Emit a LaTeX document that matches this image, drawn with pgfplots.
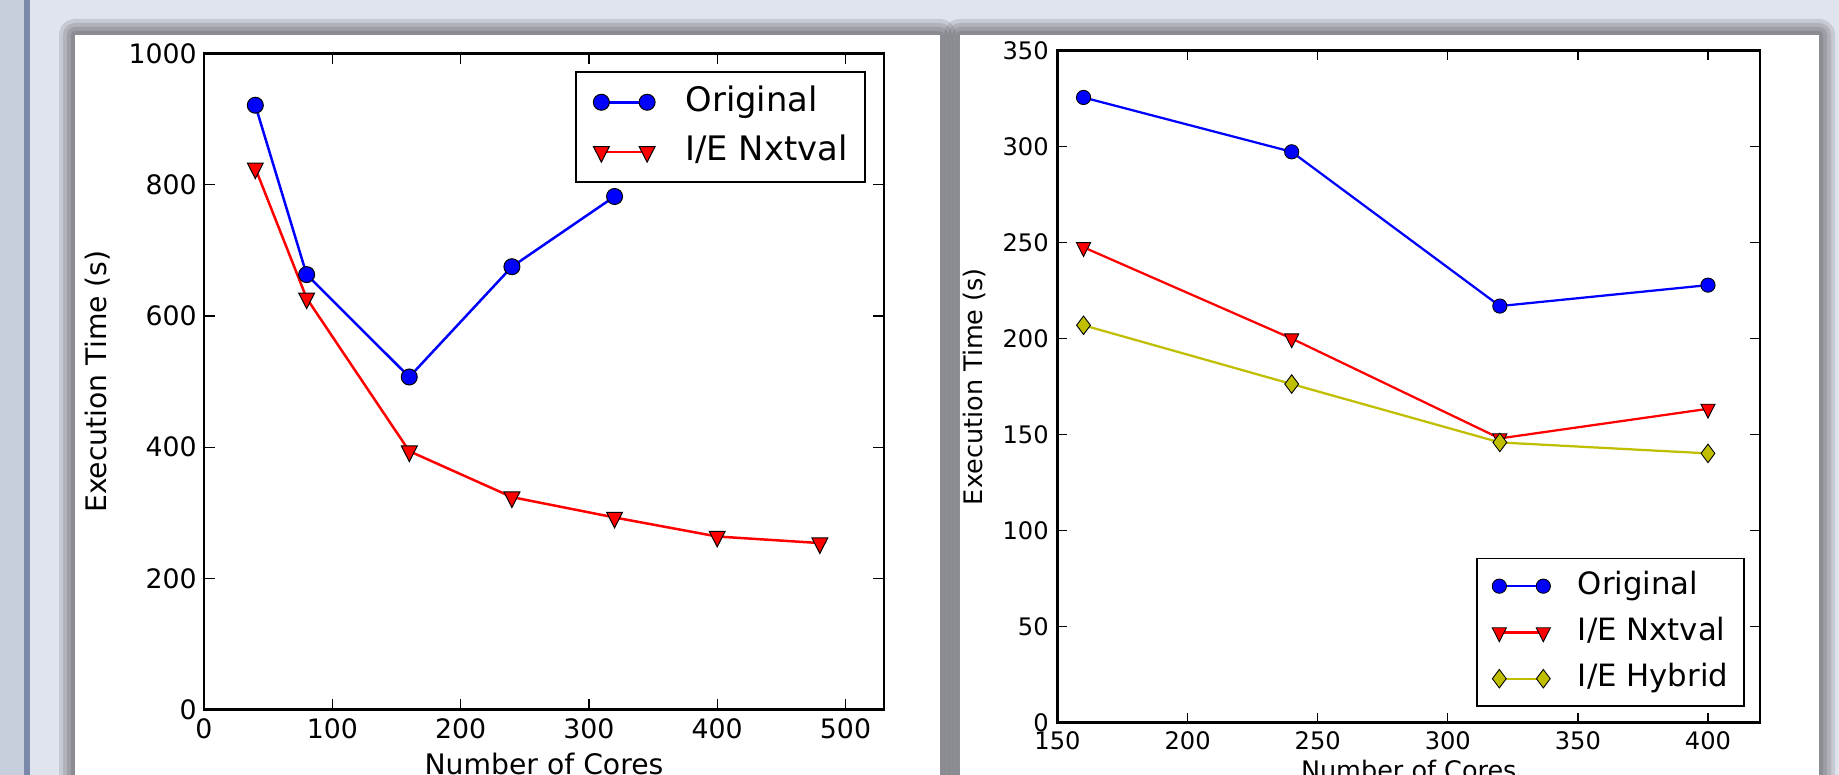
\documentclass[border=0pt]{standalone}
\usepackage{fontspec}
\setmainfont{DejaVu Sans}
\usepackage{pgfplots}
\pgfplotsset{compat=1.18}
\definecolor{slidebg}{HTML}{E0E4EE}
\definecolor{stripc}{HTML}{C8CFDC}
\definecolor{stripl}{HTML}{7A88AA}
\definecolor{mplyellow}{HTML}{BFBF00}
\pgfplotstableread{
x y
40 921
80 663
160 507
240 675
320 782
}\leftorig
\pgfplotstableread{
x y
40 825
80 627
160 394
240 324
320 293
400 264
480 254
}\leftnxt
\pgfplotstableread{
x y
160 325.5
240 297.2
320 216.9
400 227.8
}\rightorig
\pgfplotstableread{
x y
160 247.5
240 200
320 148
400 163.4
}\rightnxt
\pgfplotstableread{
x y
160 206.9
240 176.3
320 145.9
400 140.2
}\righthyb
\begin{document}
\begin{tikzpicture}
\begin{scope}
\clip (0,0) rectangle (735.6pt,310pt);
\fill[slidebg] (0,0) rectangle (735.6pt,310pt);
\fill[stripc] (0,0) rectangle (9.6pt,310pt);
\fill[stripl] (9.6pt,0) rectangle (12pt,310pt);
% shadows
\foreach \e in {6.4,4.8,3.2,1.6}{
  \fill[black,opacity=0.11,rounded corners=\e pt] (30pt-\e pt,-10pt) rectangle (376pt+\e pt,296pt+\e pt);
  \fill[black,opacity=0.11,rounded corners=\e pt] (384pt-\e pt,-10pt) rectangle (727.6pt+\e pt,296pt+\e pt);
}
\fill[white] (30pt,-5pt) rectangle (376pt,296pt);
\fill[white] (384pt,-5pt) rectangle (727.6pt,296pt);

% ---------- left axis ----------
\begin{axis}[
  at={(81.6pt,26.08pt)}, anchor=south west,
  scale only axis, width=272pt, height=262.56pt,
  xmin=0, xmax=530, ymin=0, ymax=1000,
  xtick={0,100,...,500}, ytick={0,200,...,1000},
  tick align=inside, major tick length=4.3pt,
  axis line style={line width=1.1pt},
  every tick/.style={black, line width=0.55pt},
  /pgf/number format/assume math mode=true,
  /pgf/number format/1000 sep={},
  ticklabel style={font=\fontsize{10.7}{12}\selectfont},
  xticklabel style={yshift=-0.2pt},
  yticklabel style={xshift=0.6pt},
  xlabel={Number of Cores}, ylabel={Execution Time (s)},
  label style={font=\fontsize{11.3}{13}\selectfont},
  xlabel style={at={(axis description cs:0.5,-0.0658)}, anchor=north, inner sep=0pt},
  ylabel style={at={(axis description cs:-0.156,0.5)}, anchor=center, rotate=0, inner sep=0pt},
  legend image code/.code={\draw[#1] plot coordinates {(0pt,0pt) (18.3pt,0pt)};},
  legend cell align=left,
  legend style={at={(axis description cs:0.9735,0.9726)}, anchor=north east,
    draw=black, line width=0.8pt, inner xsep=7pt, inner ysep=5.2pt, row sep=6.3pt,
    font=\fontsize{13.5}{16}\selectfont,
    nodes={inner sep=0pt, text height=10.3pt, text depth=3.2pt},
    /tikz/every odd column/.append style={column sep=12.2pt}},
]
\addplot[color=blue, line width=1pt, mark=*, mark size=3.2pt,
  mark options={fill=blue, draw=black, line width=0.4pt}] table[x=x,y=y] {\leftorig};
\addlegendentry{Original}
\addplot[color=red, line width=1pt, mark=triangle*, mark size=3.2pt,
  mark options={fill=red, draw=black, line width=0.4pt, rotate=180, xscale=1.15, yscale=1.3}] table[x=x,y=y] {\leftnxt};
\addlegendentry{I/E Nxtval}
\end{axis}

% ---------- right axis ----------
\begin{axis}[
  at={(423pt,20.92pt)}, anchor=south west,
  scale only axis, width=281pt, height=268.92pt,
  xmin=150, xmax=420, ymin=0, ymax=350,
  xtick={150,200,...,400}, ytick={0,50,...,350},
  tick align=inside, major tick length=3.9pt,
  axis line style={line width=1pt},
  every tick/.style={black, line width=0.5pt},
  /pgf/number format/assume math mode=true,
  /pgf/number format/1000 sep={},
  ticklabel style={font=\fontsize{9.65}{11}\selectfont},
  xlabel={Number of Cores}, ylabel={Execution Time (s)},
  label style={font=\fontsize{10.2}{12}\selectfont},
  xlabel style={at={(axis description cs:0.5,-0.0555)}, anchor=north, inner sep=0pt},
  ylabel style={at={(axis description cs:-0.118,0.5)}, anchor=center, rotate=0, inner sep=0pt},
  legend image code/.code={\draw[#1] plot coordinates {(0pt,0pt) (17.6pt,0pt)};},
  legend cell align=left,
  legend style={at={(axis description cs:0.978,0.023)}, anchor=south east,
    draw=black, line width=0.75pt, inner xsep=6.2pt, inner ysep=4.9pt, row sep=6.2pt,
    font=\fontsize{12.3}{14}\selectfont,
    nodes={inner sep=0pt, text height=9.35pt, text depth=2.95pt},
    /tikz/every odd column/.append style={column sep=11pt}},
]
\addplot[color=blue, line width=0.9pt, mark=*, mark size=2.85pt,
  mark options={fill=blue, draw=black, line width=0.35pt}] table[x=x,y=y] {\rightorig};
\addlegendentry{Original}
\addplot[color=red, line width=0.9pt, mark=triangle*, mark size=2.85pt,
  mark options={fill=red, draw=black, line width=0.35pt, rotate=180, xscale=1.15, yscale=1.3}] table[x=x,y=y] {\rightnxt};
\addlegendentry{I/E Nxtval}
\addplot[color=mplyellow, line width=0.9pt, mark=diamond*, mark size=3.7pt,
  mark options={fill=mplyellow, draw=black, line width=0.35pt}] table[x=x,y=y] {\righthyb};
\addlegendentry{I/E Hybrid}
\end{axis}
\end{scope}
\pgfresetboundingbox
\path[use as bounding box] (0,0) rectangle (735.6pt,310pt);
\end{tikzpicture}
\end{document}
